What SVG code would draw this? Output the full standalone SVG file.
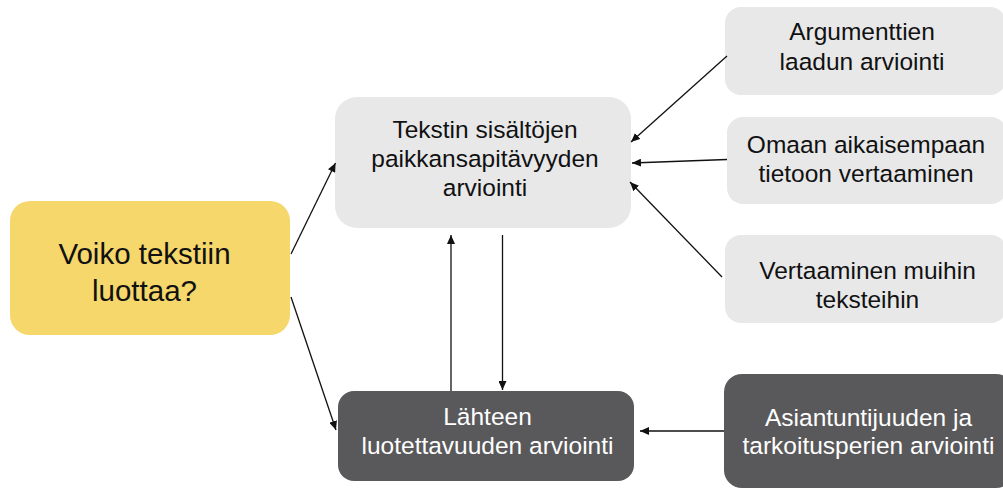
<svg xmlns="http://www.w3.org/2000/svg" width="1003" height="489" viewBox="0 0 1003 489">
  <style>
    .t { font-family: "Liberation Sans", Arial, sans-serif; font-size: 24.5px; text-anchor: middle; fill: #111; }
    .w { fill: #ffffff; }
    .big { font-size: 29.5px; }
    .light { fill: #E8E8E9; }
    .dark { fill: #59595B; }
    .yellow { fill: #F5D76B; }
    .c line { stroke: #111; stroke-width: 1.3; fill: none; marker-end: url(#ah); }
  </style>
  <defs>
    <marker id="ah" markerUnits="userSpaceOnUse" markerWidth="10" markerHeight="8" refX="9" refY="4" orient="auto">
      <path d="M0,0 L9,4 L0,8 Z" fill="#111"/>
    </marker>
  </defs>
  <rect width="1003" height="489" fill="#ffffff"/>

  <g id="node-voiko">
    <rect class="yellow" x="10" y="201" width="280" height="134" rx="20"/>
    <text class="t big" x="144.5" y="264">Voiko tekstiin</text>
    <text class="t big" x="144.5" y="301">luottaa?</text>
  </g>

  <g id="node-tekstin">
    <rect class="light" x="335" y="97" width="296" height="131" rx="22"/>
    <text class="t" x="485" y="137.5">Tekstin sisältöjen</text>
    <text class="t" x="485" y="167">paikkansapitävyyden</text>
    <text class="t" x="485" y="196">arviointi</text>
  </g>

  <g id="node-lahteen">
    <rect class="dark" x="338" y="391" width="296" height="90" rx="16"/>
    <text class="t w" x="487.5" y="425">Lähteen</text>
    <text class="t w" x="487.5" y="454">luotettavuuden arviointi</text>
  </g>

  <g id="node-argumenttien">
    <rect class="light" x="725" y="7" width="281" height="88" rx="16"/>
    <text class="t" x="862" y="40">Argumenttien</text>
    <text class="t" x="862" y="69.5">laadun arviointi</text>
  </g>

  <g id="node-omaan">
    <rect class="light" x="727" y="117" width="280" height="87" rx="16"/>
    <text class="t" x="866" y="152.5">Omaan aikaisempaan</text>
    <text class="t" x="866" y="182">tietoon vertaaminen</text>
  </g>

  <g id="node-vertaaminen">
    <rect class="light" x="725" y="235" width="282" height="88" rx="16"/>
    <text class="t" x="867.5" y="278.5">Vertaaminen muihin</text>
    <text class="t" x="867.5" y="308">teksteihin</text>
  </g>

  <g id="node-asiantuntijuuden">
    <rect class="dark" x="724" y="374" width="290" height="114" rx="18"/>
    <text class="t w" x="868.5" y="425.5">Asiantuntijuuden ja</text>
    <text class="t w" x="868.5" y="454">tarkoitusperien arviointi</text>
  </g>

  <g id="connectors" class="c">
    <line x1="291" y1="254" x2="335.5" y2="163"/>
    <line x1="291" y1="297" x2="336" y2="430"/>
    <line x1="727" y1="56" x2="631" y2="142"/>
    <line x1="727" y1="159.5" x2="632" y2="163"/>
    <line x1="722" y1="277" x2="630" y2="182"/>
    <line x1="451" y1="391" x2="451" y2="235"/>
    <line x1="502.5" y1="235" x2="502.5" y2="390"/>
    <line x1="724" y1="431" x2="640" y2="431"/>
  </g>
</svg>
